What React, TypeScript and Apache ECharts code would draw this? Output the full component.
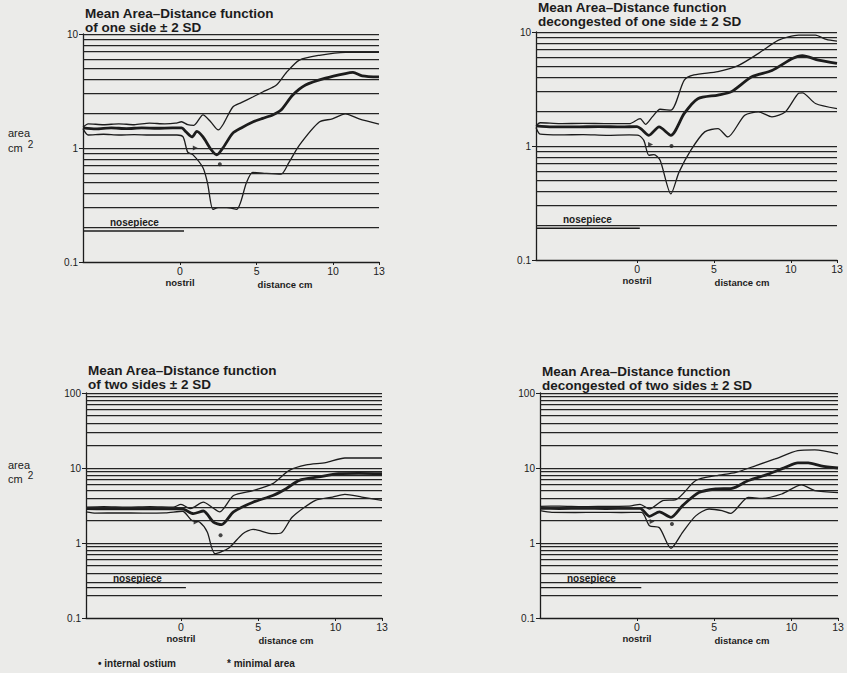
import React, { useEffect, useRef } from "react";
import * as echarts from "echarts";

// ---- data: [distance cm, area cm2] ----
const oneSideMean = [[-6.34,1.5],[-5.5,1.47],[-4.5,1.5],[-3.5,1.48],[-2.5,1.5],[-1.5,1.49],[-0.5,1.5],[0.1,1.5],[0.4,1.38],[0.78,1.25],[1.1,1.4],[1.5,1.25],[2.0,0.98],[2.4,0.87],[2.8,1.0],[3.45,1.35],[4.0,1.5],[4.75,1.69],[5.4,1.82],[6.05,1.95],[6.6,2.15],[7.35,2.9],[8.2,3.57],[9.5,4.1],[10.8,4.5],[11.3,4.6],[11.9,4.3],[13,4.2]];
const oneSideUpper = [[-6.34,1.52],[-6.0,1.63],[-5.0,1.6],[-4.0,1.63],[-3.0,1.6],[-2.0,1.65],[-1.0,1.63],[-0.3,1.65],[0.1,1.7],[0.5,1.6],[0.9,1.58],[1.5,1.95],[2.0,1.7],[2.5,1.44],[2.8,1.6],[3.45,2.29],[4.0,2.5],[4.75,2.8],[5.4,3.1],[6.3,3.57],[6.95,4.6],[7.8,5.9],[9.1,6.5],[10.8,6.9],[13,6.9]];
const oneSideLower = [[-6.34,1.48],[-6.0,1.3],[-5.0,1.32],[-4.0,1.3],[-3.0,1.31],[-2.0,1.3],[-1.0,1.3],[-0.2,1.3],[0.2,1.25],[0.5,0.92],[0.85,0.87],[1.5,0.67],[1.8,0.49],[2.15,0.29],[2.5,0.3],[3.05,0.3],[3.7,0.29],[4.35,0.5],[4.75,0.61],[5.5,0.6],[6.6,0.59],[7.1,0.74],[7.8,1.06],[9.1,1.69],[9.95,1.8],[10.8,1.99],[11.7,1.8],[13,1.62]];
const oneSideOstium = [[1.0, 1.0]];
const oneSideMinimal = [[2.6, 0.72]];

const deconOneMean = [[-6.57,1.5],[-5.5,1.47],[-4,1.47],[-2.5,1.48],[-1,1.47],[0,1.48],[0.3,1.4],[0.77,1.24],[1.43,1.47],[2.2,1.24],[3.07,1.93],[3.95,2.6],[5.26,2.8],[6.14,3.0],[7.46,4.05],[8.77,4.6],[10.1,5.85],[10.75,6.2],[11.8,5.67],[13,5.3]];
const deconOneUpper = [[-6.57,1.5],[-6.3,1.6],[-5,1.57],[-3.5,1.58],[-2,1.57],[-0.5,1.57],[0.2,1.74],[0.55,1.55],[0.99,1.8],[1.5,2.1],[2.2,2.06],[3.07,3.78],[3.7,4.2],[5.26,4.5],[6.6,5.1],[7.9,6.5],[9.2,8.5],[10.5,9.4],[11.6,9.4],[12.3,8.6],[13,8.3]];
const deconOneLower = [[-6.57,1.45],[-6.3,1.27],[-5,1.25],[-3.5,1.26],[-2,1.24],[-0.5,1.25],[0.1,1.24],[0.44,1.12],[0.77,0.83],[1.1,0.84],[1.5,0.75],[2.2,0.38],[2.73,0.59],[3.5,0.92],[4.4,1.33],[5.26,1.42],[5.9,1.2],[7.0,1.86],[7.9,1.99],[8.77,1.8],[9.65,2.0],[10.5,2.9],[10.75,2.93],[11.6,2.36],[13,2.13]];
const deconOneOstium = [[0.88, 1.03]];
const deconOneMinimal = [[2.24, 1.0]];

const twoSidesMean = [[-6.14,2.87],[-5,2.85],[-3.5,2.87],[-2,2.85],[-0.5,2.87],[0.1,2.85],[0.8,2.46],[1.45,2.67],[2.1,1.9],[2.63,1.76],[3.4,2.6],[4.66,3.5],[5.94,4.3],[6.8,5.3],[7.65,6.85],[8.9,7.6],[10.2,8.4],[11.5,8.5],[13,8.4]];
const twoSidesUpper = [[-6.14,3.0],[-5,3.05],[-3.5,3.0],[-2,3.05],[-0.5,3.0],[0,3.27],[0.6,2.87],[1.45,3.5],[2.0,3.0],[2.5,2.6],[3.4,4.3],[4.66,5.0],[5.94,6.2],[7.0,9.3],[8.1,11],[9.36,11.8],[10.6,13.6],[13,13.6]];
const twoSidesLower = [[-6.14,2.6],[-5.5,2.5],[-4,2.52],[-2.5,2.5],[-1,2.52],[0.1,2.65],[0.7,2.0],[1.2,1.9],[1.7,1.4],[2.2,0.72],[3.1,0.86],[4.0,1.33],[4.66,1.52],[5.94,1.33],[6.5,1.37],[7.2,2.22],[8.7,3.7],[9.8,4.1],[10.6,4.45],[11.7,4.1],[13,3.7]];
const twoSidesOstium = [[0.98, 1.9]];
const twoSidesMinimal = [[2.56, 1.27]];

const deconTwoMean = [[-6.27,2.9],[-5,2.88],[-3.5,2.9],[-2,2.88],[-0.5,2.9],[0.2,2.9],[0.81,2.27],[1.45,2.6],[2.2,2.2],[2.95,3.15],[4.0,4.7],[5.1,5.25],[6.15,5.35],[7.2,6.8],[8.5,8.3],[9.6,10.2],[10.4,11.7],[11.07,11.7],[11.9,10.7],[13,10]];
const deconTwoUpper = [[-6.27,3.08],[-5,3.1],[-3.5,3.05],[-2,3.08],[-0.5,3.1],[0.2,3.28],[0.81,2.84],[1.67,3.67],[2.52,3.78],[3.8,6.8],[5.1,7.9],[6.4,8.77],[7.65,10.7],[8.93,13.2],[10.4,17],[11.5,17.4],[13,15.4]];
const deconTwoLower = [[-6.27,2.7],[-5.5,2.56],[-4,2.55],[-2.5,2.56],[-1,2.55],[0.3,2.56],[0.81,1.7],[1.45,1.6],[2.2,0.85],[2.95,1.39],[3.8,2.3],[4.66,2.84],[5.5,2.7],[6.05,2.48],[7.2,4.06],[8.08,3.94],[9.36,4.5],[10.64,5.94],[11.5,5.0],[13,4.7]];
const deconTwoOstium = [[0.98, 1.93]];
const deconTwoMinimal = [[2.26, 1.79]];

const nosepieceLevels = [0.187, 0.19, 0.254, 0.254];
const nosepieceEnds = [0.26, 0.18, 0.32, 0.28];
const xTickValues = [0, 5, 10, 13];
const logMultipliers = [1, 2, 3, 4, 5, 6, 7, 8, 9];

const panels = [
  { title: "Mean Area\u2013Distance function\nof one side \u00b1 2 SD", titleY: 20, mean: oneSideMean, upper: oneSideUpper, lower: oneSideLower, ostium: oneSideOstium, minimal: oneSideMinimal, xMin: -6.34, yMax: 10,
    grid: { left: 83, top: 34, width: 296, height: 228 } },
  { title: "Mean Area\u2013Distance function\ndecongested of one side \u00b1 2 SD", titleY: 14, mean: deconOneMean, upper: deconOneUpper, lower: deconOneLower, ostium: deconOneOstium, minimal: deconOneMinimal, xMin: -6.57, yMax: 10,
    grid: { left: 536, top: 32, width: 301, height: 228 } },
  { title: "Mean Area\u2013Distance function\nof two sides \u00b1 2 SD", titleY: 377, mean: twoSidesMean, upper: twoSidesUpper, lower: twoSidesLower, ostium: twoSidesOstium, minimal: twoSidesMinimal, xMin: -6.14, yMax: 100,
    grid: { left: 86, top: 393, width: 296, height: 225 } },
  { title: "Mean Area\u2013Distance function\ndecongested of two sides \u00b1 2 SD", titleY: 378, mean: deconTwoMean, upper: deconTwoUpper, lower: deconTwoLower, ostium: deconTwoOstium, minimal: deconTwoMinimal, xMin: -6.27, yMax: 100,
    grid: { left: 540, top: 393, width: 298, height: 225 } },
];

const INK = "#1c1c1c";
const FONT = "Liberation Sans, Arial, sans-serif";

function gridLevels(yMax: number) {
  const out: number[] = [];
  for (let d = 0.1; d < yMax * 0.999; d *= 10) {
    logMultipliers.forEach((m) => {
      const v = +(d * m).toPrecision(3);
      if (v > 0.1001) out.push(v);
    });
  }
  out.push(yMax);
  return out;
}

export default function App() {
  const ref = useRef<HTMLDivElement>(null);
  useEffect(() => {
    if (!ref.current) return;
    const chart = echarts.init(ref.current, null, { renderer: "svg" });
    const grids: any[] = [];
    const xAxes: any[] = [];
    const yAxes: any[] = [];
    const series: any[] = [];
    const graphics: any[] = [];

    panels.forEach((p, i) => {
      grids.push({ ...p.grid, containLabel: false });
      xAxes.push({
        type: "value", gridIndex: i, min: p.xMin, max: 13,
        axisLine: { show: true, onZero: false, lineStyle: { color: INK, width: 1.3 } },
        axisTick: { show: true, customValues: xTickValues, length: 3, lineStyle: { color: INK } },
        axisLabel: { show: true, customValues: xTickValues, color: INK, fontSize: 10.5, fontFamily: FONT, margin: 3 },
        splitLine: { show: false },
      });
      yAxes.push({
        type: "log", logBase: 10, gridIndex: i, min: 0.1, max: p.yMax,
        axisLine: { show: true, onZero: false, lineStyle: { color: INK, width: 1.3 } },
        axisTick: { show: true, length: 4, lineStyle: { color: INK } },
        axisLabel: { show: true, color: INK, fontSize: 10, fontFamily: FONT, margin: 5,
          formatter: (v: number) => (v < 1 ? "0.1" : String(Math.round(v))) },
        splitLine: { show: false },
        minorTick: { show: false },
      });
      // log grid lines
      series.push({
        type: "line", xAxisIndex: i, yAxisIndex: i, data: [], silent: true,
        markLine: {
          symbol: "none", silent: true, label: { show: false },
          lineStyle: { color: "#242424", width: 1.25, type: "solid" },
          data: gridLevels(p.yMax).map((v) => ({ yAxis: v })),
        },
      });
      // nosepiece
      series.push({
        type: "line", xAxisIndex: i, yAxisIndex: i, symbol: "none",
        lineStyle: { color: INK, width: 1.4 },
        data: [[p.xMin, nosepieceLevels[i]], [nosepieceEnds[i], nosepieceLevels[i]]],
      });
      series.push({ type: "line", xAxisIndex: i, yAxisIndex: i, symbol: "none", smooth: 0.25,
        lineStyle: { color: INK, width: 1.3 }, data: p.upper });
      series.push({ type: "line", xAxisIndex: i, yAxisIndex: i, symbol: "none", smooth: 0.25,
        lineStyle: { color: INK, width: 1.3 }, data: p.lower });
      series.push({ type: "line", xAxisIndex: i, yAxisIndex: i, symbol: "none", smooth: 0.25,
        lineStyle: { color: INK, width: 2.8 }, data: p.mean });
      series.push({ type: "scatter", xAxisIndex: i, yAxisIndex: i, symbol: "triangle", symbolRotate: -90,
        symbolSize: 5, itemStyle: { color: INK }, data: p.ostium });
      series.push({ type: "scatter", xAxisIndex: i, yAxisIndex: i, symbol: "circle",
        symbolSize: 4, itemStyle: { color: INK }, data: p.minimal });

      const g = p.grid;
      const zeroX = g.left + (-p.xMin / (13 - p.xMin)) * g.width;
      const bottom = g.top + g.height;
      const decades = Math.log10(p.yMax) + 1;
      const npLineY = bottom - ((Math.log10(nosepieceLevels[i]) + 1) / decades) * g.height;
      graphics.push({ type: "text", x: g.left + 2, y: p.titleY,
        style: { text: p.title, font: `bold 13.5px ${FONT}`, lineHeight: 14, fill: INK, textVerticalAlign: "middle" } });
      graphics.push({ type: "text", x: zeroX, y: bottom + 20,
        style: { text: "nostril", font: `bold 9.5px ${FONT}`, fill: INK, textAlign: "center", textVerticalAlign: "middle" } });
      graphics.push({ type: "text", x: zeroX + 105, y: bottom + 22,
        style: { text: "distance cm", font: `bold 9.5px ${FONT}`, fill: INK, textAlign: "center", textVerticalAlign: "middle" } });
      graphics.push({ type: "text", x: g.left + 27, y: npLineY - 9,
        style: { text: "nosepiece", font: `bold 10px ${FONT}`, fill: INK, textVerticalAlign: "middle" } });
    });

    // axis title "area cm2"
    [[133, 148], [465, 479]].forEach(([y1, y2]) => {
      graphics.push({ type: "text", x: 8, y: y1,
        style: { text: "area", font: `11px ${FONT}`, fill: INK, textVerticalAlign: "middle" } });
      graphics.push({ type: "text", x: 8, y: y2,
        style: { text: "cm {s|2}", font: `11px ${FONT}`, fill: INK, textVerticalAlign: "middle",
          rich: { s: { fontSize: 10, fontFamily: FONT, verticalAlign: "top", padding: [0, 0, 8, 2], fill: INK } } } });
    });

    // legend
    graphics.push({ type: "text", x: 98, y: 663,
      style: { text: "\u2022 internal ostium", font: `bold 10px ${FONT}`, fill: INK, textVerticalAlign: "middle" } });
    graphics.push({ type: "text", x: 227, y: 663,
      style: { text: "* minimal area", font: `bold 10px ${FONT}`, fill: INK, textVerticalAlign: "middle" } });

    chart.setOption({
      animation: false,
      backgroundColor: "#ebebe9",
      grid: grids,
      xAxis: xAxes,
      yAxis: yAxes,
      series,
      graphic: graphics,
    });
    return () => chart.dispose();
  }, []);
  return <div ref={ref} style={{ position: "fixed", left: 0, top: 0, width: 847, height: 673 }} />;
}
